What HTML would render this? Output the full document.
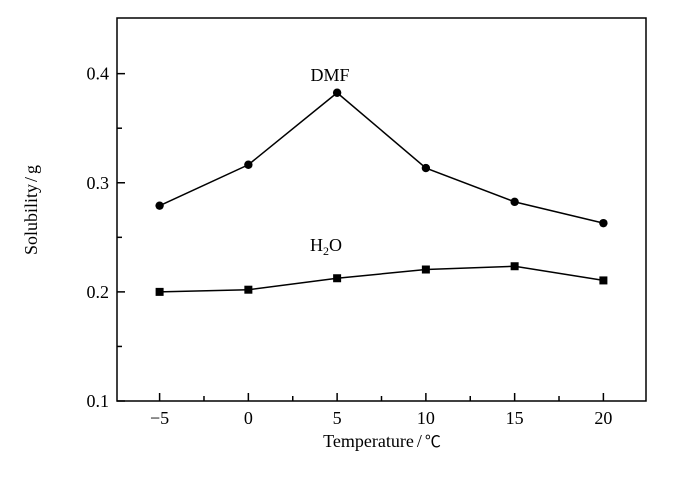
<!DOCTYPE html>
<html><head><meta charset="utf-8"><style>
html,body{margin:0;padding:0;background:#fff;}
svg text{font-family:"Liberation Serif",serif;fill:#000;}
</style></head><body>
<svg id="chart" width="700" height="481" viewBox="0 0 700 481"></svg>
<script>
const xTicks=[-5,0,5,10,15,20];
const yTicks=[0.1,0.2,0.3,0.4];
const temps=[-5,0,5,10,15,20];
const dmf=[0.279,0.3165,0.3825,0.3135,0.2825,0.263];
const h2o=[0.200,0.202,0.2125,0.2205,0.2235,0.2105];
const L=117,R=646,T=18,B=401,X0=-7.4,X1=22.4,Y0=0.1,Y1=0.451;
const sx=v=>L+(v-X0)/(X1-X0)*(R-L);
const sy=v=>B-(v-Y0)/(Y1-Y0)*(B-T);
const svg=document.getElementById('chart');
const NS='http://www.w3.org/2000/svg';
function mk(t,a,p){const e=document.createElementNS(NS,t);for(const k in a)e.setAttribute(k,a[k]);(p||svg).appendChild(e);return e;}
const frame=mk('rect',{x:L,y:T,width:R-L,height:B-T,fill:'none',stroke:'#000','stroke-width':1.5});


xTicks.forEach(v=>{
 const l=mk('line',{x1:sx(v),x2:sx(v),y1:B,y2:B-8,stroke:'#000','stroke-width':1.5});
 
 
 if(v+2.5<X1){
 const m=mk('line',{x1:sx(v+2.5),x2:sx(v+2.5),y1:B,y2:B-5,stroke:'#000','stroke-width':1.5});
 
 
 }
 const t=mk('text',{x:sx(v),y:B+23,'text-anchor':'middle','font-size':18});
 t.textContent=v<0?'\u2212'+(-v):String(v);
 
 
});
yTicks.forEach(v=>{
 const l=mk('line',{x1:L,x2:L+8,y1:sy(v),y2:sy(v),stroke:'#000','stroke-width':1.5});
 
 
 if(v+0.05<Y1-0.005){
 const m=mk('line',{x1:L,x2:L+5,y1:sy(v+0.05),y2:sy(v+0.05),stroke:'#000','stroke-width':1.5});
 
 
 }
 const t=mk('text',{x:L-8,y:sy(v)+6,'text-anchor':'end','font-size':18});
 t.textContent=v.toFixed(1);
 
 
});
function series(vals,name,shape){
 const p=mk('polyline',{points:temps.map((t,i)=>sx(t)+','+sy(vals[i])).join(' '),fill:'none',stroke:'#000','stroke-width':1.5});
 
 
 temps.forEach((t,i)=>{
  let e;
  if(shape==='c') e=mk('circle',{cx:sx(t),cy:sy(vals[i]),r:4.2,fill:'#000'});
  else e=mk('rect',{x:sx(t)-4,y:sy(vals[i])-4,width:8,height:8,fill:'#000'});
  
  
 });
}
series(dmf,'dmf','c');
series(h2o,'h2o','s');
const d=mk('text',{x:330,y:81,'text-anchor':'middle','font-size':18});
d.textContent='DMF';


const h=mk('text',{x:310,y:251,'font-size':18});
h.innerHTML='H<tspan font-size="12" dy="4">2</tspan><tspan dy="-4">O</tspan>';


const xt=mk('text',{x:382,y:447,'text-anchor':'middle','font-size':18});
xt.innerHTML='Temperature<tspan dx="3">/</tspan><tspan dx="3" font-family="Noto Sans CJK SC, sans-serif" font-size="16">\u2103</tspan>';


const yt=mk('text',{x:0,y:0,'text-anchor':'middle','font-size':18,transform:'translate(37,210) rotate(-90)'});
yt.innerHTML='Solubility<tspan dx="2">/</tspan><tspan dx="3">g</tspan>';


</script>
</body></html>
